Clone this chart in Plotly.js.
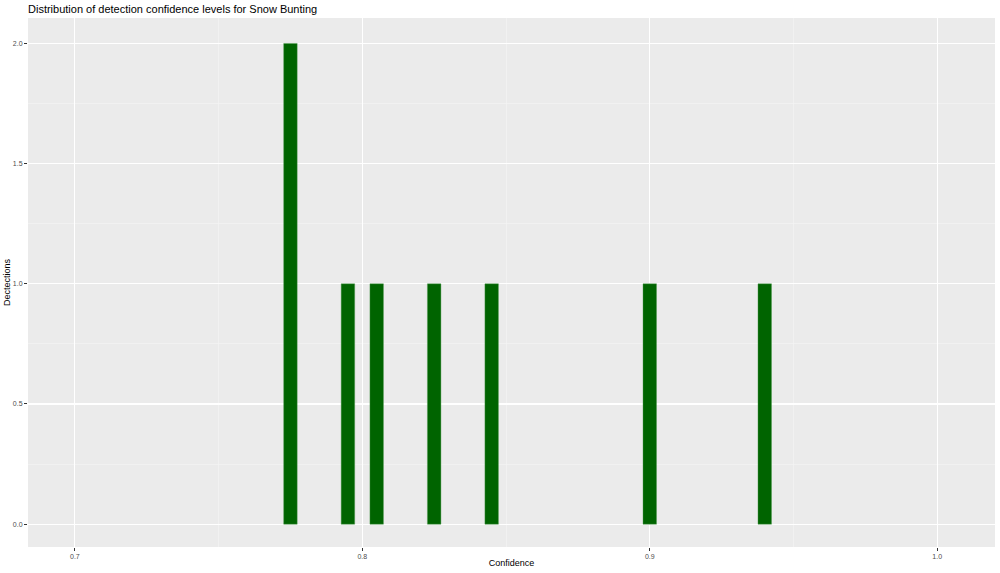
<!DOCTYPE html>
<html>
<head>
<meta charset="utf-8">
<script src="https://cdn.plot.ly/plotly-3.0.1.min.js"></script>
<style>html,body{margin:0;padding:0;background:#fff;}#chart{width:1000px;height:573px;}</style>
</head>
<body>
<div id="chart"></div>
<script>
const confidence = [0.775, 0.795, 0.805, 0.825, 0.845, 0.900, 0.940];
const detections = [2, 1, 1, 1, 1, 1, 1];
const xTicks = [0.7, 0.8, 0.9, 1.0];
const yTicks = [0.0, 0.5, 1.0, 1.5, 2.0];

const trace = {
  type: 'bar',
  x: confidence,
  y: detections,
  width: 0.0047,
  marker: {color: '#006400', line: {color: '#4f9a4f', width: 0.4}},
  hoverinfo: 'x+y'
};

const layout = {
  width: 1000, height: 573,
  margin: {l: 28, r: 5, t: 18, b: 26},
  paper_bgcolor: '#ffffff',
  plot_bgcolor: '#ebebeb',
  font: {family: 'Liberation Sans, Arial, sans-serif', color: '#000'},
  showlegend: false,
  title: {text: 'Distribution of detection confidence levels for Snow Bunting',
    font: {size: 11, color: '#000'}, xref: 'container', yref: 'container',
    x: 0.028, xanchor: 'left', y: 1 - 9/573, yanchor: 'middle'},
  xaxis: {
    range: [0.6837, 1.0201], tickvals: xTicks, ticktext: xTicks.map(v => v.toFixed(1)),
    showgrid: true, gridcolor: '#ffffff', gridwidth: 1.1, zeroline: false,
    ticks: 'outside', ticklen: 3, tickcolor: '#333', tickwidth: 1,
    tickfont: {size: 7, color: '#4d4d4d'}, showline: false,
    minor: {tickvals: [0.75, 0.85, 0.95], showgrid: true, gridcolor: '#f5f5f5', gridwidth: 0.6, ticks: ''},
    title: {text: 'Confidence', font: {size: 9, color: '#000'}, standoff: 0},
    automargin: false
  },
  yaxis: {
    range: [-0.095, 2.106], tickvals: yTicks, ticktext: yTicks.map(v => v.toFixed(1)),
    showgrid: true, gridcolor: '#ffffff', gridwidth: 1.1, zeroline: false,
    ticks: 'outside', ticklen: 3, tickcolor: '#333', tickwidth: 1,
    tickfont: {size: 7, color: '#4d4d4d'}, showline: false,
    minor: {tickvals: [0.25, 0.75, 1.25, 1.75], showgrid: true, gridcolor: '#f5f5f5', gridwidth: 0.6, ticks: ''},
    title: {text: 'Dectections', font: {size: 9, color: '#000'}, standoff: 0},
    automargin: false
  },
  bargap: 0
};

Plotly.newPlot('chart', [trace], layout, {displayModeBar: false, staticPlot: true});
</script>
</body>
</html>
